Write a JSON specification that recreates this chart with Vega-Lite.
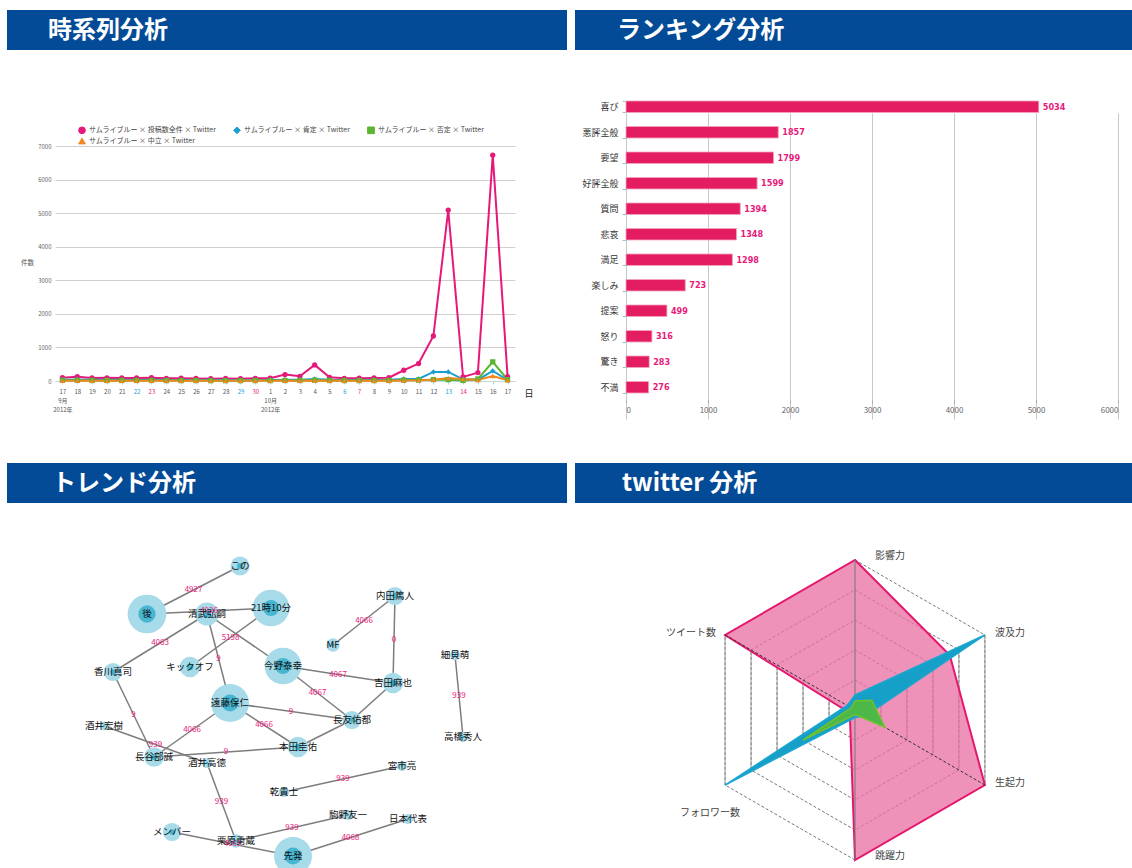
{
  "$schema": "https://vega.github.io/schema/vega-lite/v6.json",
  "padding": {"left": 7, "top": 10, "right": 0, "bottom": 0},
  "background": "white",
  "config": {"view": {"stroke": null}, "font": "Noto Sans CJK JP"},
  "datasets": {
    "ts": [
      {"d": "2012-09-17", "全件": 100, "肯定": 40, "否定": 20, "中立": 8},
      {"d": "2012-09-18", "全件": 130, "肯定": 45, "否定": 20, "中立": 10},
      {"d": "2012-09-19", "全件": 90, "肯定": 35, "否定": 15, "中立": 8},
      {"d": "2012-09-20", "全件": 95, "肯定": 35, "否定": 15, "中立": 8},
      {"d": "2012-09-21", "全件": 90, "肯定": 35, "否定": 15, "中立": 8},
      {"d": "2012-09-22", "全件": 90, "肯定": 30, "否定": 15, "中立": 6},
      {"d": "2012-09-23", "全件": 100, "肯定": 35, "否定": 15, "中立": 8},
      {"d": "2012-09-24", "全件": 80, "肯定": 30, "否定": 12, "中立": 6},
      {"d": "2012-09-25", "全件": 85, "肯定": 30, "否定": 12, "中立": 6},
      {"d": "2012-09-26", "全件": 75, "肯定": 28, "否定": 12, "中立": 6},
      {"d": "2012-09-27", "全件": 70, "肯定": 28, "否定": 10, "中立": 5},
      {"d": "2012-09-28", "全件": 75, "肯定": 28, "否定": 10, "中立": 5},
      {"d": "2012-09-29", "全件": 70, "肯定": 25, "否定": 10, "中立": 5},
      {"d": "2012-09-30", "全件": 80, "肯定": 30, "否定": 12, "中立": 6},
      {"d": "2012-10-01", "全件": 85, "肯定": 30, "否定": 12, "中立": 6},
      {"d": "2012-10-02", "全件": 190, "肯定": 40, "否定": 15, "中立": 10},
      {"d": "2012-10-03", "全件": 140, "肯定": 35, "否定": 15, "中立": 8},
      {"d": "2012-10-04", "全件": 480, "肯定": 60, "否定": 25, "中立": 15},
      {"d": "2012-10-05", "全件": 110, "肯定": 35, "否定": 15, "中立": 8},
      {"d": "2012-10-06", "全件": 80, "肯定": 30, "否定": 12, "中立": 6},
      {"d": "2012-10-07", "全件": 85, "肯定": 30, "否定": 12, "中立": 6},
      {"d": "2012-10-08", "全件": 90, "肯定": 30, "否定": 12, "中立": 8},
      {"d": "2012-10-09", "全件": 100, "肯定": 35, "否定": 15, "中立": 8},
      {"d": "2012-10-10", "全件": 320, "肯定": 60, "否定": 25, "中立": 15},
      {"d": "2012-10-11", "全件": 520, "肯定": 60, "否定": 30, "中立": 20},
      {"d": "2012-10-12", "全件": 1340, "肯定": 270, "否定": 40, "中立": 40},
      {"d": "2012-10-13", "全件": 5090, "肯定": 270, "否定": 40, "中立": 90},
      {"d": "2012-10-14", "全件": 120, "肯定": 50, "否定": 15, "中立": 60},
      {"d": "2012-10-15", "全件": 250, "肯定": 40, "否定": 60, "中立": 30},
      {"d": "2012-10-16", "全件": 6730, "肯定": 300, "否定": 570, "中立": 150},
      {"d": "2012-10-17", "全件": 130, "肯定": 30, "否定": 40, "中立": 20}
    ],
    "rank": [
      {"c": "喜び", "n": 5034},
      {"c": "悪評全般", "n": 1857},
      {"c": "要望", "n": 1799},
      {"c": "好評全般", "n": 1599},
      {"c": "質問", "n": 1394},
      {"c": "悲哀", "n": 1348},
      {"c": "満足", "n": 1298},
      {"c": "楽しみ", "n": 723},
      {"c": "提案", "n": 499},
      {"c": "怒り", "n": 316},
      {"c": "驚き", "n": 283},
      {"c": "不満", "n": 276}
    ],
    "nodes": [
      {"name": "この", "x": 233, "y": 63, "v": 1200},
      {"name": "後", "x": 140, "y": 111, "v": 5000},
      {"name": "清武弘嗣", "x": 200, "y": 111, "v": 1800},
      {"name": "21時10分", "x": 264, "y": 105, "v": 4500},
      {"name": "内田篤人", "x": 388, "y": 93, "v": 1100},
      {"name": "MF", "x": 326, "y": 142, "v": 600},
      {"name": "細貝萌", "x": 448, "y": 152, "v": 350},
      {"name": "キックオフ", "x": 183, "y": 164, "v": 1400},
      {"name": "香川真司", "x": 106, "y": 169, "v": 1100},
      {"name": "今野泰幸", "x": 276, "y": 163, "v": 4500},
      {"name": "吉田麻也", "x": 386, "y": 180, "v": 1400},
      {"name": "遠藤保仁", "x": 223, "y": 200, "v": 4800},
      {"name": "長友佑都", "x": 345, "y": 217, "v": 1100},
      {"name": "高橋秀人", "x": 456, "y": 234, "v": 350},
      {"name": "酒井宏樹", "x": 97, "y": 223, "v": 250},
      {"name": "長谷部誠", "x": 147, "y": 254, "v": 1300},
      {"name": "本田圭佑", "x": 291, "y": 244, "v": 1400},
      {"name": "酒井高徳", "x": 200, "y": 260, "v": 350},
      {"name": "宮市亮", "x": 395, "y": 263, "v": 350},
      {"name": "乾貴士", "x": 277, "y": 289, "v": 350},
      {"name": "駒野友一", "x": 341, "y": 312, "v": 350},
      {"name": "日本代表", "x": 401, "y": 316, "v": 350},
      {"name": "メンバー", "x": 165, "y": 329, "v": 1100},
      {"name": "栗原勇蔵", "x": 229, "y": 338, "v": 600},
      {"name": "先発", "x": 286, "y": 353, "v": 4800}
    ],
    "edges": [
      {"e": "e1", "n": "この", "w": "4927"}, {"e": "e1", "n": "後", "w": "4927"},
      {"e": "e2", "n": "21時10分", "w": "4926"}, {"e": "e2", "n": "後", "w": "4926"},
      {"e": "e3", "n": "清武弘嗣", "w": "4063"}, {"e": "e3", "n": "香川真司", "w": "4063"},
      {"e": "e4", "n": "21時10分", "w": "5198"}, {"e": "e4", "n": "キックオフ", "w": "5198"},
      {"e": "e5", "n": "清武弘嗣", "w": "9"}, {"e": "e5", "n": "遠藤保仁", "w": "9"},
      {"e": "e6", "n": "清武弘嗣", "w": ""}, {"e": "e6", "n": "今野泰幸", "w": ""},
      {"e": "e7", "n": "今野泰幸", "w": "4067"}, {"e": "e7", "n": "長友佑都", "w": "4067"},
      {"e": "e8", "n": "今野泰幸", "w": "4067"}, {"e": "e8", "n": "吉田麻也", "w": "4067"},
      {"e": "e9", "n": "内田篤人", "w": "4066"}, {"e": "e9", "n": "MF", "w": "4066"},
      {"e": "e10", "n": "内田篤人", "w": "0"}, {"e": "e10", "n": "吉田麻也", "w": "0"},
      {"e": "e11", "n": "細貝萌", "w": "939"}, {"e": "e11", "n": "高橋秀人", "w": "939"},
      {"e": "e12", "n": "吉田麻也", "w": ""}, {"e": "e12", "n": "長友佑都", "w": ""},
      {"e": "e13", "n": "長友佑都", "w": ""}, {"e": "e13", "n": "本田圭佑", "w": ""},
      {"e": "e14", "n": "長友佑都", "w": "9"}, {"e": "e14", "n": "遠藤保仁", "w": "9"},
      {"e": "e15", "n": "本田圭佑", "w": "4066"}, {"e": "e15", "n": "遠藤保仁", "w": "4066"},
      {"e": "e16", "n": "長谷部誠", "w": "4066"}, {"e": "e16", "n": "遠藤保仁", "w": "4066"},
      {"e": "e17", "n": "酒井高徳", "w": "939"}, {"e": "e17", "n": "酒井宏樹", "w": "939"},
      {"e": "e18", "n": "長谷部誠", "w": "9"}, {"e": "e18", "n": "香川真司", "w": "9"},
      {"e": "e19", "n": "本田圭佑", "w": "9"}, {"e": "e19", "n": "長谷部誠", "w": "9"},
      {"e": "e20", "n": "栗原勇蔵", "w": "939"}, {"e": "e20", "n": "酒井高徳", "w": "939"},
      {"e": "e21", "n": "栗原勇蔵", "w": "939"}, {"e": "e21", "n": "駒野友一", "w": "939"},
      {"e": "e22", "n": "先発", "w": "4068"}, {"e": "e22", "n": "メンバー", "w": "4068"},
      {"e": "e23", "n": "先発", "w": "4068"}, {"e": "e23", "n": "日本代表", "w": "4068"},
      {"e": "e24", "n": "乾貴士", "w": "939"}, {"e": "e24", "n": "宮市亮", "w": "939"}
    ],
    "raxes": [
      {"i": 0, "name": "影響力", "lv": [0.2, 0.4, 0.6, 0.8, 1]},
      {"i": 1, "name": "波及力", "lv": [0.2, 0.4, 0.6, 0.8, 1]},
      {"i": 2, "name": "生起力", "lv": [0.2, 0.4, 0.6, 0.8, 1]},
      {"i": 3, "name": "跳躍力", "lv": [0.2, 0.4, 0.6, 0.8, 1]},
      {"i": 4, "name": "フォロワー数", "lv": [0.2, 0.4, 0.6, 0.8, 1]},
      {"i": 5, "name": "ツイート数", "lv": [0.2, 0.4, 0.6, 0.8, 1]}
    ],
    "radar": [
      {"s": "A", "i": 0, "v": 1}, {"s": "A", "i": 1, "v": 0.73}, {"s": "A", "i": 2, "v": 1},
      {"s": "A", "i": 3, "v": 1}, {"s": "A", "i": 4, "v": 0.04}, {"s": "A", "i": 5, "v": 1},
      {"s": "B", "i": 0, "v": 0.1}, {"s": "B", "i": 1, "v": 1}, {"s": "B", "i": 2, "v": 0.08},
      {"s": "B", "i": 3, "v": 0.05}, {"s": "B", "i": 4, "v": 1}, {"s": "B", "i": 5, "v": 0.06},
      {"s": "C", "i": 0, "v": 0.06}, {"s": "C", "i": 1, "v": 0.13}, {"s": "C", "i": 2, "v": 0.23},
      {"s": "C", "i": 3, "v": 0.03}, {"s": "C", "i": 4, "v": 0.4}, {"s": "C", "i": 5, "v": 0.03}
    ]
  },
  "hconcat": [
    {
      "vconcat": [
        {
          "width": 560, "height": 40,
          "view": {"fill": "#034b96", "stroke": null},
          "data": {"values": [{"t": "時系列分析"}]},
          "mark": {"type": "text", "align": "left", "baseline": "middle", "color": "white", "fontSize": 24, "fontWeight": "bold", "dx": 41, "dy": 1},
          "encoding": {"text": {"field": "t"}, "x": {"datum": 0, "type": "quantitative", "scale": {"domain": [0, 1]}, "axis": null}}
        },
        {
          "width": 560, "height": 413,
          "data": {"name": "ts"},
          "transform": [{"fold": ["全件", "肯定", "否定", "中立"], "as": ["k", "v"]}],
          "encoding": {
            "x": {
              "field": "d", "type": "ordinal",
              "scale": {"type": "point", "padding": 0.5, "range": [48, 508]},
              "axis": {
                "offset": -82,
                "title": "日", "titleX": 517, "titleY": 12, "titleAngle": 0, "titleAlign": "left", "titleBaseline": "middle",
                "titleFontSize": 9, "titleFontWeight": "normal", "titleColor": "#222",
                "labelAngle": 0, "labelFontSize": 6, "labelLineHeight": 9, "labelBaseline": "top", "labelPadding": 4,
                "labelExpr": "datum.value == '2012-09-17' ? ['17', '9月', '2012年'] : datum.value == '2012-10-01' ? ['1', '10月', '2012年'] : '' + toNumber(slice(datum.value, 8))",
                "labelColor": {
                  "condition": [
                    {"test": "indexof(['2012-09-22','2012-09-29','2012-10-06','2012-10-13'], datum.value) >= 0", "value": "#1aa3d6"},
                    {"test": "indexof(['2012-09-23','2012-09-30','2012-10-07','2012-10-14'], datum.value) >= 0", "value": "#e8197a"}
                  ],
                  "value": "#555555"
                },
                "tickSize": 3, "tickColor": "#a9d5e8", "domainColor": "#c6d6de", "grid": false
              }
            },
            "y": {
              "field": "v", "type": "quantitative",
              "scale": {"domain": [0, 7000], "nice": false, "range": [331, 96]},
              "axis": {
                "offset": -48, "format": "d",
                "title": "件数", "titleAngle": 0, "titleX": -28, "titleY": 212, "titleFontSize": 6.5, "titleFontWeight": "normal",
                "titleColor": "#555", "titleAlign": "center", "titleBaseline": "middle",
                "values": [0, 1000, 2000, 3000, 4000, 5000, 6000, 7000],
                "labelFontSize": 6, "labelColor": "#666", "labelPadding": 4, "ticks": false, "domain": false,
                "gridColor": "#cfcfcf", "gridWidth": 1.2
              }
            },
            "color": {
              "field": "k", "type": "nominal",
              "scale": {"domain": ["全件", "肯定", "否定", "中立"], "range": ["#e6197a", "#1a9fd0", "#5bb531", "#f4861f"]},
              "legend": {
                "orient": "none", "legendX": 71, "legendY": 116, "direction": "horizontal", "columns": 3, "title": null,
                "labelFontSize": 7, "labelColor": "#444", "columnPadding": 14, "rowPadding": 0, "labelOffset": 3,
                "symbolType": "M-1,-0.15H1V0.15H-1Z M-0.5,0A0.5,0.5,0,1,0,0.5,0A0.5,0.5,0,1,0,-0.5,0Z",
                "symbolSize": 45, "symbolStrokeWidth": 1,
                "labelExpr": "'サムライブルー × ' + (datum.label == '全件' ? '投稿数全件' : datum.label) + ' × Twitter'"
              }
            }
          },
          "layer": [
            {"mark": {"type": "line", "strokeWidth": 2}},
            {
              "mark": {"type": "point", "filled": true, "size": 28, "opacity": 1},
              "encoding": {"shape": {"field": "k", "type": "nominal", "scale": {"domain": ["全件", "肯定", "否定", "中立"], "range": ["circle", "diamond", "square", "triangle-up"]}, "legend": null}}
            }
          ]
        },
        {
          "width": 560, "height": 40,
          "view": {"fill": "#034b96", "stroke": null},
          "data": {"values": [{"t": "トレンド分析"}]},
          "mark": {"type": "text", "align": "left", "baseline": "middle", "color": "white", "fontSize": 24, "fontWeight": "bold", "dx": 45, "dy": 1},
          "encoding": {"text": {"field": "t"}, "x": {"datum": 0, "type": "quantitative", "scale": {"domain": [0, 1]}, "axis": null}}
        },
        {
          "width": 560, "height": 365,
          "encoding": {
            "x": {"field": "x", "type": "quantitative", "scale": {"domain": [0, 560], "nice": false, "zero": false}, "axis": null},
            "y": {"field": "y", "type": "quantitative", "scale": {"domain": [0, 365], "nice": false, "zero": false, "reverse": true}, "axis": null}
          },
          "layer": [
            {
              "data": {"name": "edges"},
              "transform": [{"lookup": "n", "from": {"data": {"name": "nodes"}, "key": "name", "fields": ["x", "y"]}}],
              "mark": {"type": "line", "color": "#7d7d7d", "strokeWidth": 1.5},
              "encoding": {"detail": {"field": "e"}}
            },
            {
              "data": {"name": "nodes"},
              "mark": {"type": "circle", "color": "#a7dbea", "opacity": 1},
              "encoding": {"size": {"field": "v", "type": "quantitative", "scale": {"domain": [0, 5000], "range": [0, 1500]}, "legend": null}}
            },
            {
              "data": {"name": "nodes"},
              "mark": {"type": "circle", "color": "#46b6d1", "opacity": 1},
              "encoding": {"size": {"field": "v", "type": "quantitative", "scale": {"type": "pow", "exponent": 1.5, "domain": [0, 5000], "range": [0, 300]}, "legend": null}}
            },
            {
              "data": {"name": "edges"},
              "transform": [{"lookup": "n", "from": {"data": {"name": "nodes"}, "key": "name", "fields": ["x", "y"]}}],
              "mark": {"type": "text", "color": "#e8197a", "fontSize": 8},
              "encoding": {
                "x": {"aggregate": "mean", "field": "x", "type": "quantitative"},
                "y": {"aggregate": "mean", "field": "y", "type": "quantitative"},
                "detail": {"field": "e"},
                "text": {"field": "w"}
              }
            },
            {
              "data": {"name": "nodes"},
              "mark": {"type": "text", "color": "#111", "fontSize": 9.5},
              "encoding": {"text": {"field": "name"}}
            }
          ],
          "resolve": {"scale": {"size": "independent"}}
        }
      ],
      "spacing": 0, "bounds": "flush"
    },
    {
      "vconcat": [
        {
          "width": 557, "height": 40,
          "view": {"fill": "#034b96", "stroke": null},
          "data": {"values": [{"t": "ランキング分析"}]},
          "mark": {"type": "text", "align": "left", "baseline": "middle", "color": "white", "fontSize": 24, "fontWeight": "bold", "dx": 42, "dy": 1},
          "encoding": {"text": {"field": "t"}, "x": {"datum": 0, "type": "quantitative", "scale": {"domain": [0, 1]}, "axis": null}}
        },
        {
          "width": 557, "height": 413,
          "data": {"name": "rank"},
          "encoding": {
            "y": {
              "field": "c", "type": "nominal", "sort": null,
              "scale": {"paddingInner": 0.55, "paddingOuter": 0.275, "range": [44, 350]},
              "axis": {"offset": -51, "title": null, "labelFontSize": 9, "labelColor": "#333", "tickColor": "#8cc8e3", "tickSize": 4, "tickBand": "extent", "domain": false, "labelPadding": 4}
            },
            "x": {
              "field": "n", "type": "quantitative",
              "scale": {"domain": [0, 6000], "nice": false, "range": [51, 543]},
              "axis": {"offset": -63, "format": "d", "title": null, "values": [0, 1000, 2000, 3000, 4000, 5000, 6000], "labelFontSize": 8, "labelColor": "#666", "tickColor": "#aaa", "tickSize": 3, "domain": false, "gridColor": "#c8c8c8", "labelPadding": 3}
            }
          },
          "layer": [
            {"mark": {"type": "bar", "color": "#e41d63", "stroke": "#f3a3bd", "strokeWidth": 0.8}},
            {"mark": {"type": "text", "align": "left", "dx": 4, "color": "#e8197a", "fontSize": 9, "fontWeight": "bold", "font": "Liberation Sans Narrow, DejaVu Sans Condensed, sans-serif"}, "encoding": {"text": {"field": "n"}}}
          ]
        },
        {
          "width": 557, "height": 40,
          "view": {"fill": "#034b96", "stroke": null},
          "data": {"values": [{"t": "twitter 分析"}]},
          "mark": {"type": "text", "align": "left", "baseline": "middle", "color": "white", "fontSize": 24, "fontWeight": "bold", "dx": 47, "dy": 1},
          "encoding": {"text": {"field": "t"}, "x": {"datum": 0, "type": "quantitative", "scale": {"domain": [0, 1]}, "axis": null}}
        },
        {
          "width": 557, "height": 365,
          "encoding": {
            "x": {"field": "x", "type": "quantitative", "scale": {"domain": [-1.8667, 1.8467], "nice": false, "zero": false}, "axis": null},
            "y": {"field": "y", "type": "quantitative", "scale": {"domain": [-1.0533, 1.38], "nice": false, "zero": false}, "axis": null}
          },
          "layer": [
            {
              "data": {"name": "raxes"},
              "transform": [
                {"flatten": ["lv"]},
                {"calculate": "datum.lv * sin(datum.i * PI / 3)", "as": "x"},
                {"calculate": "datum.lv * cos(datum.i * PI / 3)", "as": "y"}
              ],
              "mark": {"type": "line", "interpolate": "linear-closed", "color": "#555", "strokeWidth": 0.8, "strokeDash": [3, 2]},
              "encoding": {"detail": {"field": "lv"}, "order": {"field": "i"}}
            },
            {
              "data": {"name": "raxes"},
              "transform": [
                {"filter": "datum.i == 1 || datum.i == 5"},
                {"flatten": ["lv"]},
                {"calculate": "datum.lv * sin(datum.i * PI / 3)", "as": "x"},
                {"calculate": "datum.lv * cos(datum.i * PI / 3)", "as": "y"},
                {"calculate": "-datum.y", "as": "ny"}
              ],
              "mark": {"type": "rule", "color": "#9a9a9a", "strokeWidth": 1},
              "encoding": {"y2": {"field": "ny"}}
            },
            {
              "data": {"name": "radar"},
              "transform": [
                {"filter": "datum.s == 'A'"},
                {"calculate": "datum.v * sin(datum.i * PI / 3)", "as": "x"},
                {"calculate": "datum.v * cos(datum.i * PI / 3)", "as": "y"}
              ],
              "mark": {"type": "line", "interpolate": "linear-closed", "fill": "#ea6da1", "fillOpacity": 0.75, "stroke": "#e5176e", "strokeWidth": 2},
              "encoding": {"order": {"field": "i"}}
            },
            {
              "data": {"name": "raxes"},
              "transform": [
                {"filter": "datum.i == 0 || datum.i == 3"},
                {"calculate": "sin(datum.i * PI / 3)", "as": "x"},
                {"calculate": "cos(datum.i * PI / 3)", "as": "y"}
              ],
              "mark": {"type": "rule", "color": "#777", "strokeWidth": 1},
              "encoding": {"x2": {"datum": 0}, "y2": {"datum": 0}}
            },
            {
              "data": {"name": "raxes"},
              "transform": [
                {"filter": "datum.i != 0 && datum.i != 3"},
                {"calculate": "sin(datum.i * PI / 3)", "as": "x"},
                {"calculate": "cos(datum.i * PI / 3)", "as": "y"}
              ],
              "mark": {"type": "rule", "color": "#333", "strokeWidth": 1, "strokeDash": [3, 2]},
              "encoding": {"x2": {"datum": 0}, "y2": {"datum": 0}}
            },
            {
              "data": {"name": "radar"},
              "transform": [
                {"filter": "datum.s == 'B'"},
                {"calculate": "datum.v * sin(datum.i * PI / 3)", "as": "x"},
                {"calculate": "datum.v * cos(datum.i * PI / 3)", "as": "y"}
              ],
              "mark": {"type": "line", "interpolate": "linear-closed", "fill": "#16a0c8", "fillOpacity": 1, "stroke": "#1aa6d0", "strokeWidth": 1.5},
              "encoding": {"order": {"field": "i"}}
            },
            {
              "data": {"name": "radar"},
              "transform": [
                {"filter": "datum.s == 'C'"},
                {"calculate": "datum.v * sin(datum.i * PI / 3)", "as": "x"},
                {"calculate": "datum.v * cos(datum.i * PI / 3)", "as": "y"}
              ],
              "mark": {"type": "line", "interpolate": "linear-closed", "fill": "#4db748", "fillOpacity": 1, "stroke": "#72c22c", "strokeWidth": 1.5},
              "encoding": {"order": {"field": "i"}}
            },
            {
              "data": {"name": "raxes"},
              "transform": [
                {"filter": "datum.i == 0 || datum.i == 3"},
                {"calculate": "sin(datum.i * PI / 3)", "as": "x"},
                {"calculate": "cos(datum.i * PI / 3)", "as": "y"}
              ],
              "mark": {"type": "text", "align": "left", "baseline": "middle", "dx": 20, "dy": -4, "fontSize": 10, "color": "#444"},
              "encoding": {"text": {"field": "name"}}
            },
            {
              "data": {"name": "raxes"},
              "transform": [
                {"filter": "datum.i == 1 || datum.i == 2"},
                {"calculate": "sin(datum.i * PI / 3)", "as": "x"},
                {"calculate": "cos(datum.i * PI / 3)", "as": "y"}
              ],
              "mark": {"type": "text", "align": "left", "baseline": "middle", "dx": 10, "dy": -2, "fontSize": 10, "color": "#444"},
              "encoding": {"text": {"field": "name"}}
            },
            {
              "data": {"name": "raxes"},
              "transform": [
                {"filter": "datum.i == 5"},
                {"calculate": "sin(datum.i * PI / 3)", "as": "x"},
                {"calculate": "cos(datum.i * PI / 3)", "as": "y"}
              ],
              "mark": {"type": "text", "align": "right", "baseline": "middle", "dx": -9, "dy": -2, "fontSize": 10, "color": "#444"},
              "encoding": {"text": {"field": "name"}}
            },
            {
              "data": {"name": "raxes"},
              "transform": [
                {"filter": "datum.i == 4"},
                {"calculate": "sin(datum.i * PI / 3)", "as": "x"},
                {"calculate": "cos(datum.i * PI / 3)", "as": "y"}
              ],
              "mark": {"type": "text", "align": "right", "baseline": "middle", "dx": 15, "dy": 28, "fontSize": 10, "color": "#444"},
              "encoding": {"text": {"field": "name"}}
            }
          ]
        }
      ],
      "spacing": 0, "bounds": "flush"
    }
  ],
  "spacing": 8
}
